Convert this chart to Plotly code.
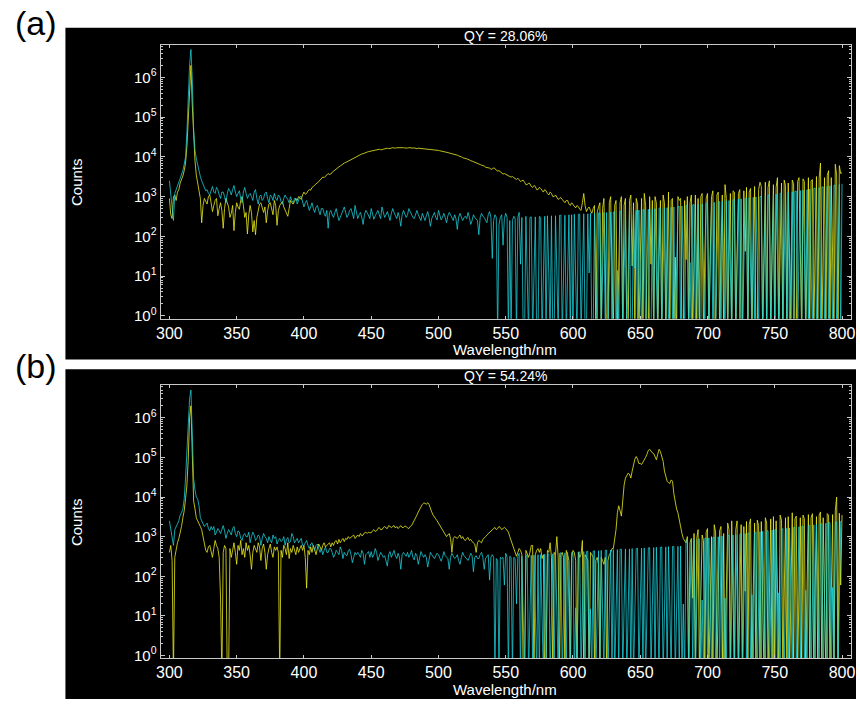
import plotly.graph_objects as go

# ---------------- data ----------------
wavelength = list(range(300, 801))  # nm, 1 nm steps

# panel (a) QY = 28.06%  (sample = yellow, blank = cyan)
sample_a = [
    900, 350, 280, 1000, 1100, 800, 1300, 1500, 2200, 2600,            # 300
    3300, 4500, 7000, 18000, 80000, 700000, 2000000, 200000, 25000, 8000,  # 310
    3500, 2200, 1300, 900, 220, 600, 900, 750, 650, 1000,              # 320
    1100, 700, 420, 600, 800, 900, 330, 500, 700, 450,                 # 330
    160, 500, 900, 700, 550, 300, 380, 600, 140, 400,                  # 340
    700, 550, 480, 800, 1000, 600, 300, 400, 115, 350,                 # 350
    600, 400, 130, 250, 110, 300, 500, 650, 700, 500,                  # 360
    400, 550, 220, 450, 650, 700, 500, 350, 800, 600,                  # 370
    190, 450, 600, 700, 750, 550, 450, 380, 320, 500,                  # 380
    800, 700, 650, 750, 900, 800, 1000, 950, 850, 1100,                # 390
    1300, 1150, 1200, 1400, 1500, 1450, 1700, 1800, 2000, 2100,        # 400
    2200, 2400, 2600, 2800, 3100, 3000, 3300, 3500, 3800, 3600,        # 410
    3700, 4100, 4400, 4600, 4900, 5200, 5600, 5900, 6300, 6600,        # 420
    7000, 7200, 7500, 8000, 8300, 8600, 9000, 9400, 10000, 10100,      # 430
    10500, 11000, 11500, 11800, 12000, 12600, 13000, 13200, 13500, 13800,  # 440
    14000, 14300, 14500, 14800, 15000, 15400, 15500, 15100, 15000, 15600,  # 450
    16000, 16300, 16500, 16000, 16000, 16600, 17000, 16700, 16500, 16900,  # 460
    17000, 16600, 16500, 16900, 17000, 16700, 16500, 16600, 17000, 16800,  # 470
    16200, 16600, 16800, 16300, 16000, 16500, 16400, 16000, 15800, 15900,  # 480
    15500, 15700, 15800, 15400, 15200, 15300, 15000, 15100, 14800, 14600,  # 490
    14500, 14200, 14000, 14100, 13800, 13300, 13000, 12800, 12500, 12300,  # 500
    12000, 11600, 11500, 11200, 11000, 10600, 10500, 10000, 9500, 9400,    # 510
    9000, 8900, 8700, 8200, 8000, 7800, 7600, 7300, 7200, 7000,        # 520
    6800, 6400, 6200, 6100, 5900, 5500, 5400, 5500, 5200, 4900,        # 530
    4900, 5300, 5100, 4600, 4400, 4500, 4200, 3900, 3700, 3800,        # 540
    3600, 3500, 3400, 3200, 3100, 3200, 3000, 2800, 2700, 2900,        # 550
    2600, 2400, 2500, 2600, 2300, 2000, 2000, 2200, 2100, 1800,        # 560
    1700, 1900, 1800, 1500, 1500, 1700, 1600, 1400, 1300, 1500,        # 570
    1400, 1200, 1100, 1300, 1200, 1000, 1000, 1100, 950, 850,          # 580
    900, 950, 850, 750, 700, 800, 800, 650, 600, 700,                  # 590
    620, 550, 520, 600, 560, 480, 450, 700, 1200, 600,                 # 600
    420, 500, 550, 450, 380, 500, 600, 0.3, 400, 550,                  # 610
    700, 0.3, 500, 900, 20, 0.3, 0.3, 700, 1000, 15,                   # 620
    0.3, 600, 800, 0.3, 16, 700, 1000, 0.3, 600, 900,                  # 630
    0.3, 0.3, 800, 1100, 18, 700, 0.3, 900, 650, 0.3,                  # 640
    22, 900, 0.3, 1200, 600, 0.3, 0.3, 1000, 20, 800,                  # 650
    0.3, 1000, 700, 0.3, 28, 800, 0.3, 1100, 700, 0.3,                 # 660
    24, 1300, 0.3, 800, 900, 0.3, 30, 0.3, 1000, 800,                  # 670
    900, 0.3, 0.3, 800, 26, 1000, 0.3, 700, 1100, 0.3,                 # 680
    32, 1100, 0.3, 900, 0.3, 1000, 1200, 0.3, 30, 900,                 # 690
    1200, 0.3, 35, 1000, 1400, 0.3, 0.3, 1100, 1300, 0.3,              # 700
    38, 1100, 0.3, 2000, 900, 0.3, 36, 1200, 0.3, 1400,                # 710
    1300, 0.3, 40, 1200, 1500, 0.3, 0.3, 1400, 42, 1700,               # 720
    0.3, 1300, 1600, 0.3, 40, 1800, 0.3, 0.3, 1500, 2300,              # 730
    1800, 0.3, 42, 2300, 0.3, 1700, 2500, 0.3, 45, 2000,               # 740
    0.3, 1700, 3000, 0.3, 44, 2200, 0.3, 2600, 1900, 0.3,              # 750
    2200, 48, 0.3, 2600, 2100, 0.3, 0.3, 2400, 3000, 46,               # 760
    0.3, 2800, 2400, 0.3, 50, 3000, 0.3, 2500, 2700, 0.3,              # 770
    52, 3200, 0.3, 2900, 7000, 0.3, 55, 3000, 0.3, 3400,               # 780
    4500, 0.3, 3000, 58, 0.3, 6500, 3500, 0.3, 6000, 3800,             # 790
    4000,                                                              # 800
]
blank_a = [
    2500, 1200, 600, 250, 1200, 1500, 1900, 2400, 3000, 3800,          # 300
    4500, 6500, 10000, 40000, 300000, 2000000, 5000000, 900000, 50000, 15000,  # 310
    9000, 6000, 4000, 3200, 2500, 2000, 1800, 1400, 1500, 1200,        # 320
    1100, 1500, 1800, 1300, 1200, 1700, 1500, 1100, 900, 1300,         # 330
    1300, 1000, 700, 1200, 1600, 1400, 1100, 1500, 1900, 1300,         # 340
    1000, 1200, 1400, 900, 700, 1300, 1700, 1200, 900, 1100,           # 350
    1200, 1000, 800, 1300, 1500, 900, 650, 1000, 1100, 800,            # 360
    900, 1200, 1300, 900, 700, 1100, 1000, 800, 1200, 900,             # 370
    800, 1100, 1000, 750, 650, 900, 1100, 950, 850, 700,               # 380
    1000, 800, 700, 900, 900, 650, 800, 1000, 1000, 700,               # 390
    550, 700, 800, 600, 450, 550, 700, 500, 400, 550,                  # 400
    600, 450, 350, 500, 500, 380, 320, 450, 160, 400,                  # 410
    450, 350, 300, 400, 500, 350, 250, 300, 380, 450,                  # 420
    550, 400, 300, 350, 450, 500, 350, 280, 600, 400,                  # 430
    280, 350, 400, 300, 200, 350, 450, 400, 330, 280,                  # 440
    500, 350, 270, 330, 400, 450, 350, 280, 550, 400,                  # 450
    300, 350, 420, 330, 250, 380, 500, 400, 320, 280,                  # 460
    400, 300, 180, 350, 450, 380, 300, 350, 500, 420,                  # 470
    350, 300, 280, 380, 450, 350, 300, 250, 380, 320,                  # 480
    250, 330, 420, 300, 180, 280, 350, 400, 300, 260,                  # 490
    450, 350, 260, 300, 380, 300, 220, 330, 400, 350,                  # 500
    300, 250, 350, 280, 150, 300, 380, 320, 250, 300,                  # 510
    320, 280, 400, 300, 200, 250, 350, 300, 280, 250,                  # 520
    110, 300, 380, 320, 300, 250, 220, 350, 420, 300,                  # 530
    28, 250, 350, 300, 0.3, 200, 300, 350, 60, 280,                    # 540
    380, 300, 0.3, 250, 0.3, 250, 320, 280, 0.3, 300,                  # 550
    400, 20, 300, 0.3, 0.3, 320, 15, 0.3, 300, 310,                    # 560
    0.3, 15, 310, 0.3, 0.3, 320, 300, 0.3, 12, 320,                    # 570
    0.3, 330, 12, 0.3, 330, 0.3, 0.3, 330, 14, 0.3,                    # 580
    340, 340, 0.3, 12, 340, 0.3, 14, 350, 0.3, 350,                    # 590
    0.3, 360, 10, 0.3, 360, 360, 0.3, 12, 370, 0.3,                    # 600
    0.3, 370, 12, 380, 0.3, 0.3, 380, 13, 0.3, 390,                    # 610
    390, 0.3, 13, 400, 0.3, 400, 0.3, 14, 410, 0.3,                    # 620
    410, 420, 0.3, 14, 0.3, 420, 430, 0.3, 15, 430,                    # 630
    0.3, 15, 440, 0.3, 0.3, 450, 16, 450, 0.3, 460,                    # 640
    16, 0.3, 470, 470, 0.3, 17, 480, 0.3, 0.3, 490,                    # 650
    0.3, 500, 17, 0.3, 510, 510, 0.3, 18, 520, 0.3,                    # 660
    530, 0.3, 19, 540, 0.3, 550, 0.3, 19, 560, 570,                    # 670
    0.3, 580, 20, 0.3, 590, 600, 0.3, 22, 0.3, 620,                    # 680
    630, 0.3, 22, 640, 0.3, 0.3, 660, 24, 0.3, 680,                    # 690
    690, 0.3, 26, 700, 0.3, 720, 0.3, 28, 740, 750,                    # 700
    0.3, 770, 28, 0.3, 790, 0.3, 800, 30, 0.3, 830,                    # 710
    850, 0.3, 30, 870, 0.3, 880, 0.3, 32, 900, 920,                    # 720
    0.3, 940, 32, 0.3, 960, 0.3, 980, 34, 0.3, 1000,                   # 730
    1020, 0.3, 34, 1050, 0.3, 1080, 1100, 0.3, 36, 1130,               # 740
    0.3, 1160, 36, 0.3, 1200, 1220, 0.3, 38, 1250, 0.3,                # 750
    1290, 0.3, 40, 1320, 0.3, 1360, 1380, 0.3, 40, 1420,               # 760
    0.3, 1460, 42, 0.3, 1500, 0.3, 1550, 44, 0.3, 1600,                # 770
    1640, 0.3, 45, 1690, 0.3, 1740, 1760, 0.3, 46, 1820,               # 780
    0.3, 1870, 48, 0.3, 1930, 1960, 0.3, 50, 2040, 0.3,                # 790
    2100,                                                              # 800
]

# panel (b) QY = 54.24%
sample_b = [
    400, 600, 250, 0.3, 300, 500, 700, 900, 1200, 1800,                # 300
    3000, 4500, 9000, 20000, 90000, 1000000, 2000000, 150000, 8000, 5000,  # 310
    3000, 2500, 2200, 1800, 1500, 1000, 700, 450, 400, 550,            # 320
    600, 400, 300, 500, 800, 600, 500, 300, 30, 0.3,                   # 330
    400, 600, 500, 0.3, 0.3, 500, 300, 450, 700, 400,                  # 340
    200, 600, 450, 800, 350, 500, 300, 700, 450, 600,                  # 350
    350, 150, 400, 600, 500, 400, 700, 550, 250, 500,                  # 360
    650, 400, 150, 350, 500, 650, 400, 300, 550, 450,                  # 370
    550, 400, 0.3, 450, 300, 600, 500, 350, 700, 280,                  # 380
    500, 400, 600, 450, 350, 550, 400, 500, 600, 450,                  # 390
    600, 300, 50, 450, 350, 550, 400, 600, 450, 350,                   # 400
    500, 650, 550, 450, 600, 700, 550, 600, 650, 700,                  # 410
    550, 700, 600, 750, 800, 650, 850, 700, 800, 900,                  # 420
    750, 900, 850, 1000, 900, 950, 1000, 1100, 900, 1000,              # 430
    1100, 1000, 1200, 1050, 1100, 1250, 1300, 1200, 1300, 1250,        # 440
    1250, 1400, 1500, 1350, 1400, 1600, 1700, 1500, 1500, 1700,        # 450
    1800, 1650, 1600, 1900, 1750, 1700, 1800, 1900, 1650, 1800,        # 460
    1600, 1800, 1900, 1700, 1700, 1850, 1800, 1650, 1600, 1800,        # 470
    1900, 2200, 2500, 3000, 3500, 4200, 5000, 6000, 6500, 7000,        # 480
    7000, 6500, 7200, 6500, 5000, 4200, 3500, 3000, 2800, 2500,        # 490
    2200, 2000, 1800, 1500, 1300, 1200, 1000, 1100, 1200, 900,         # 500
    400, 900, 1000, 950, 900, 1000, 1100, 900, 1000, 850,              # 510
    800, 900, 950, 800, 850, 750, 700, 650, 400, 700,                  # 520
    800, 750, 700, 850, 900, 1000, 1100, 1200, 1300, 1400,             # 530
    1500, 1600, 1700, 1500, 1600, 1800, 1700, 1500, 1600, 1700,        # 540
    1600, 1400, 1300, 1000, 800, 650, 500, 400, 320, 400,              # 550
    500, 450, 350, 0.3, 0.3, 450, 350, 300, 400, 600,                  # 560
    600, 0.3, 350, 450, 500, 400, 500, 280, 350, 0.3,                  # 570
    0.3, 450, 400, 700, 300, 0.3, 400, 350, 1000, 300,                 # 580
    0.3, 350, 400, 300, 0.3, 450, 350, 250, 0.3, 300,                  # 590
    450, 400, 250, 0.3, 400, 300, 350, 800, 0.3, 350,                  # 600
    300, 250, 0.3, 400, 350, 300, 0.3, 250, 300, 200,                  # 610
    0.3, 300, 250, 200, 300, 0.3, 250, 350, 400, 500,                  # 620
    500, 900, 1500, 4000, 6000, 4500, 3300, 8000, 20000, 30000,        # 630
    35000, 40000, 38000, 30000, 45000, 72000, 90000, 105000, 90000, 70000,  # 640
    70000, 66000, 75000, 90000, 100000, 120000, 150000, 160000, 140000, 130000,  # 650
    125000, 100000, 87000, 120000, 160000, 140000, 110000, 80000, 45000, 30000,  # 660
    25000, 23000, 22000, 27000, 25000, 12000, 7000, 5000, 4000, 2500,  # 670
    1600, 1200, 900, 800, 700, 1000, 0.3, 700, 900, 28,                # 680
    1200, 0.3, 900, 1500, 0.3, 30, 1100, 800, 0.3, 1300,               # 690
    1600, 0.3, 32, 1000, 0.3, 2000, 1300, 0.3, 35, 1400,               # 700
    1800, 0.3, 1200, 0.3, 36, 2200, 1500, 0.3, 2500, 38,               # 710
    0.3, 1500, 2500, 0.3, 40, 2000, 0.3, 1800, 42, 2400,               # 720
    0.3, 2000, 2800, 0.3, 42, 2200, 0.3, 2600, 1900, 0.3,              # 730
    2400, 44, 0.3, 3000, 2200, 0.3, 45, 2800, 0.3, 3200,               # 740
    0.3, 2500, 46, 0.3, 3500, 2600, 0.3, 48, 3000, 0.3,                # 750
    3200, 0.3, 50, 4000, 0.3, 2800, 3300, 0.3, 50, 3000,               # 760
    0.3, 3500, 2800, 0.3, 52, 3600, 0.3, 3000, 3800, 0.3,              # 770
    55, 3200, 0.3, 3500, 4200, 0.3, 3000, 56, 0.3, 3800,               # 780
    3500, 0.3, 58, 3600, 0.3, 4500, 10000, 0.3, 3900, 60,              # 790
    3500,                                                              # 800
]
blank_b = [
    2500, 1500, 800, 600, 1500, 1800, 2000, 2500, 3500, 4000,          # 300
    5000, 9000, 30000, 150000, 800000, 3000000, 5000000, 600000, 30000, 15000,  # 310
    10000, 9000, 6000, 3000, 2500, 2200, 1800, 2000, 2200, 1600,       # 320
    1400, 1800, 1500, 1800, 1100, 1300, 1600, 1400, 1200, 1500,        # 330
    1900, 1400, 900, 1200, 1500, 1300, 1100, 1600, 1800, 1200,         # 340
    1000, 1400, 1300, 900, 800, 1100, 1200, 1000, 1000, 1300,          # 350
    700, 1000, 1300, 1100, 800, 900, 1100, 1000, 600, 900,             # 360
    1200, 1000, 900, 700, 1000, 800, 700, 1100, 900, 1000,             # 370
    650, 800, 900, 750, 800, 1000, 600, 850, 950, 700,                 # 380
    750, 1200, 1000, 700, 800, 900, 700, 800, 900, 600,                # 390
    600, 700, 800, 600, 500, 650, 700, 550, 450, 600,                  # 400
    650, 500, 400, 500, 350, 450, 550, 400, 400, 500,                  # 410
    500, 400, 300, 350, 450, 400, 350, 550, 450, 280,                  # 420
    400, 350, 330, 450, 480, 350, 220, 300, 400, 350,                  # 430
    400, 350, 300, 450, 380, 200, 350, 380, 420, 300,                  # 440
    420, 300, 350, 500, 400, 250, 330, 400, 350, 300,                  # 450
    330, 250, 180, 350, 420, 300, 380, 450, 330, 280,                  # 460
    380, 300, 150, 350, 400, 350, 320, 400, 300, 350,                  # 470
    450, 300, 260, 380, 330, 200, 300, 420, 350, 300,                  # 480
    350, 300, 170, 280, 400, 350, 300, 280, 330, 380,                  # 490
    350, 300, 240, 300, 420, 330, 300, 280, 150, 300,                  # 500
    380, 330, 280, 300, 350, 250, 200, 300, 400, 330,                  # 510
    300, 280, 250, 300, 380, 330, 130, 300, 330, 280,                  # 520
    280, 350, 400, 300, 150, 280, 320, 350, 80, 300,                   # 530
    350, 300, 0.3, 280, 250, 0.3, 300, 280, 300, 60,                   # 540
    380, 300, 0.3, 320, 300, 0.3, 300, 280, 20, 320,                   # 550
    380, 0.3, 320, 15, 0.3, 330, 330, 0.3, 13, 340,                    # 560
    0.3, 340, 14, 0.3, 350, 0.3, 350, 14, 0.3, 360,                    # 570
    0.3, 360, 370, 0.3, 14, 370, 0.3, 380, 15, 0.3,                    # 580
    380, 390, 0.3, 15, 390, 0.3, 400, 16, 0.3, 400,                    # 590
    400, 0.3, 16, 0.3, 410, 410, 0.3, 14, 420, 0.3,                    # 600
    420, 430, 0.3, 15, 0.3, 430, 440, 0.3, 15, 440,                    # 610
    0.3, 450, 15, 0.3, 450, 460, 0.3, 17, 460, 0.3,                    # 620
    470, 0.3, 16, 470, 0.3, 480, 480, 0.3, 17, 490,                    # 630
    0.3, 16, 490, 0.3, 500, 0.3, 18, 500, 510, 0.3,                    # 640
    17, 510, 0.3, 520, 0.3, 19, 520, 530, 0.3, 18,                     # 650
    530, 0.3, 540, 19, 0.3, 540, 550, 0.3, 18, 550,                    # 660
    0.3, 560, 18, 0.3, 560, 570, 0.3, 19, 570, 0.3,                    # 670
    580, 0.3, 20, 0.3, 800, 820, 0.3, 22, 830, 0.3,                    # 680
    850, 0.3, 24, 860, 880, 0.3, 25, 0.3, 900, 920,                    # 690
    0.3, 930, 26, 0.3, 950, 970, 0.3, 28, 990, 0.3,                    # 700
    1000, 1020, 0.3, 28, 0.3, 1050, 1070, 0.3, 30, 1100,               # 710
    0.3, 1120, 30, 0.3, 1150, 1170, 0.3, 32, 1200, 0.3,                # 720
    1220, 1240, 0.3, 34, 0.3, 1280, 1300, 0.3, 34, 1330,               # 730
    0.3, 1360, 36, 0.3, 1400, 1420, 0.3, 36, 1460, 0.3,                # 740
    1490, 1510, 0.3, 38, 0.3, 1560, 1580, 0.3, 40, 1620,               # 750
    0.3, 1660, 40, 0.3, 1700, 1730, 0.3, 42, 1780, 0.3,                # 760
    1810, 1840, 0.3, 44, 0.3, 1900, 1930, 0.3, 46, 1990,               # 770
    0.3, 2030, 48, 0.3, 2090, 2120, 0.3, 50, 2180, 0.3,                # 780
    2220, 2260, 0.3, 52, 0.3, 2330, 2370, 0.3, 55, 2440,               # 790
    2500,                                                              # 800
]

titles = ["QY = 28.06%", "QY = 54.24%"]
panel_labels = ["(a)", "(b)"]
x_ticks = [300, 350, 400, 450, 500, 550, 600, 650, 700, 750, 800]
y_ticks = [1, 10, 100, 1000, 10000, 100000, 1000000]
y_ticktext = ["10<sup>%d</sup>" % i for i in range(7)]

# ---------------- styling ----------------
W, H = 860, 704
FONT = "Liberation Sans, Arial, sans-serif"
YEL = "rgba(235,235,30,0.8)"
CYA = "rgba(30,215,225,0.75)"
AX = "#c8c8c8"

def px(x):
    return x / W

def py(y):
    return 1 - y / H

fig = go.Figure()
for i, (s, b) in enumerate([(sample_a, blank_a), (sample_b, blank_b)]):
    xa = "x" if i == 0 else "x2"
    ya = "y" if i == 0 else "y2"
    fig.add_trace(go.Scatter(x=wavelength, y=s, xaxis=xa, yaxis=ya, mode="lines",
                             line=dict(color=YEL, width=1), showlegend=False))
    fig.add_trace(go.Scatter(x=wavelength, y=b, xaxis=xa, yaxis=ya, mode="lines",
                             line=dict(color=CYA, width=1), showlegend=False))

minor_vals = [m * 10 ** k for k in range(0, 7) for m in range(2, 10)]

def xaxis_cfg(dom, anchor):
    return dict(domain=dom, anchor=anchor, range=[293.4, 806.7], showline=True,
                linecolor=AX, linewidth=1, mirror="ticks", ticks="inside", ticklen=3,
                tickcolor=AX, tickvals=x_ticks, showgrid=False, zeroline=False,
                tickfont=dict(family=FONT, size=16, color="white"))

def yaxis_cfg(dom, anchor):
    return dict(domain=dom, anchor=anchor, type="log", range=[-0.07, 6.82],
                showline=True, linecolor=AX, linewidth=1, mirror="ticks",
                ticks="inside", ticklen=4, tickcolor=AX, tickvals=y_ticks,
                ticktext=y_ticktext, showgrid=False, zeroline=False,
                minor=dict(ticks="inside", ticklen=2, tickcolor=AX, tickvals=minor_vals,
                           showgrid=False),
                tickfont=dict(family=FONT, size=15, color="white"))

xd = [px(158), px(855)]
fig.update_layout(
    width=W, height=H, margin=dict(l=0, r=0, t=0, b=0),
    paper_bgcolor="white", plot_bgcolor="black", showlegend=False,
    xaxis=xaxis_cfg(xd, "y"),
    yaxis=yaxis_cfg([py(321), py(45)], "x"),
    xaxis2=xaxis_cfg(xd, "y2"),
    yaxis2=yaxis_cfg([py(663), py(388)], "x2"),
)

shapes = [
    dict(type="rect", xref="paper", yref="paper", x0=px(62), x1=1, y0=py(362), y1=py(28),
         fillcolor="black", line=dict(width=0), layer="below"),
    dict(type="rect", xref="paper", yref="paper", x0=px(62), x1=1, y0=0, y1=py(372),
         fillcolor="black", line=dict(width=0), layer="below"),
]
fig.update_layout(shapes=shapes)

ann = []
tops = [45, 388]
bottoms = [321, 663]
label_y = [23, 369]
for i in range(2):
    ann.append(dict(text=titles[i], x=px(506), y=py(tops[i] - 9), xref="paper", yref="paper",
                    showarrow=False, xanchor="center", yanchor="middle",
                    font=dict(family=FONT, size=14, color="white")))
    ann.append(dict(text="Wavelength/nm", x=px(506), y=py(bottoms[i] + 31), xref="paper",
                    yref="paper", showarrow=False, xanchor="center", yanchor="middle",
                    font=dict(family=FONT, size=15, color="white")))
    ann.append(dict(text="Counts", x=px(73), y=py((tops[i] + bottoms[i]) / 2), xref="paper",
                    yref="paper", showarrow=False, xanchor="center", yanchor="middle",
                    textangle=-90, font=dict(family=FONT, size=15, color="white")))
    ann.append(dict(text=panel_labels[i], x=px(9), y=py(label_y[i]), xref="paper",
                    yref="paper", showarrow=False, xanchor="left", yanchor="middle",
                    font=dict(family=FONT, size=34, color="black")))
fig.update_layout(annotations=ann)

fig.write_html("out.html")
